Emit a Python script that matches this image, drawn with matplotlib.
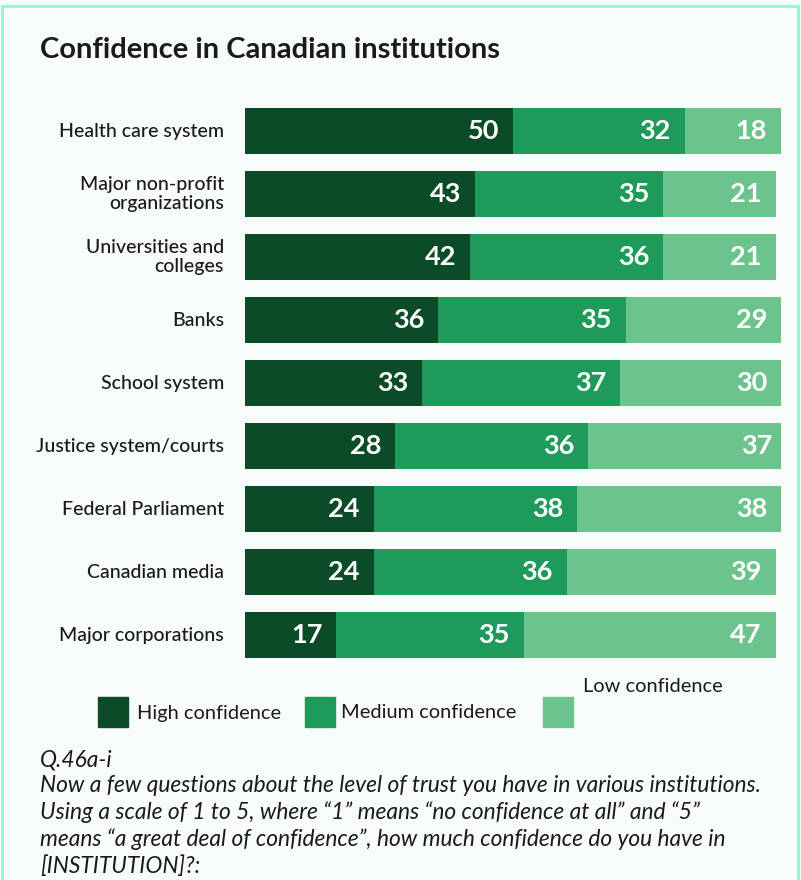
import numpy as np
import matplotlib.pyplot as plt
from matplotlib.patches import Rectangle

categories = ['Health care system', 'Major non-profit\norganizations', 'Universities and\ncolleges',
              'Banks', 'School system', 'Justice system/courts', 'Federal Parliament',
              'Canadian media', 'Major corporations']
high = [50, 43, 42, 36, 33, 28, 24, 24, 17]
medium = [32, 35, 36, 35, 37, 36, 38, 36, 35]
low = [18, 21, 21, 29, 30, 37, 38, 39, 47]
series_names = ['High confidence', 'Medium confidence', 'Low confidence']
colors = ['#0b4b27', '#1e9b5a', '#6cc48d']

title = 'Confidence in Canadian institutions'
note = ('Q.46a-i\n'
        'Now a few questions about the level of trust you have in various institutions.\n'
        'Using a scale of 1 to 5, where \u201c1\u201d means \u201cno confidence at all\u201d and \u201c5\u201d\n'
        'means \u201ca great deal of confidence\u201d, how much confidence do you have in\n'
        '[INSTITUTION]?:')

W, H = 801, 880
bg = '#f7fcfa'
plt.rcParams['font.family'] = ['Lato', 'DejaVu Sans']

fig = plt.figure(figsize=(W / 100, H / 100), dpi=100, facecolor=bg)

# border
fig.patches.append(Rectangle((2 / W, -0.01), (W - 5) / W, (H - 6) / H + 0.01, transform=fig.transFigure,
                             fill=False, edgecolor='#8ef5d6', linewidth=2))

fig.text(40 / W, 1 - 50 / H, title, fontsize=21, fontweight='bold', color='#1a1a1a', va='center')

# bars axes: x 0..100 -> 245..781 px, rows 63 px apart
ax = fig.add_axes([245 / W, 1 - 666.5 / H, 536 / W, 567 / H])
ax.set_facecolor('none')
y = np.arange(len(categories))
left = np.zeros(len(categories))
for vals, c in zip([high, medium, low], colors):
    vals = np.array(vals)
    ax.barh(y, vals, left=left, height=0.73, color=c)
    for yi, l, v in zip(y, left, vals):
        ax.text(l + v - 2.6, yi, str(v), ha='right', va='center', color='white',
                fontsize=19.5, fontweight='bold')
    left = left + vals
ax.set_xlim(0, 100)
ax.set_ylim(len(categories) - 0.5, -0.5)
ax.axis('off')
for yi, cat in zip(y, categories):
    ax.text(-3.9, yi, cat, ha='right', va='center', fontsize=14, color='#1a1a1a',
            linespacing=1.15, multialignment='right', fontweight='medium')

# legend: square x, text x, text y (px)
leg = [(98, 137, 713), (305, 341, 713), (543, 583, 686)]
for (sx, tx, ty), name, c in zip(leg, series_names, colors):
    fig.patches.append(Rectangle((sx / W, 1 - 727 / H), 30 / W, 30 / H,
                                 transform=fig.transFigure, color=c))
    fig.text(tx / W, 1 - ty / H, name, fontsize=14.4, color='#1a1a1a', va='center')

fig.text(40 / W, 1 - 749 / H, note, fontsize=16.4, style='italic', color='#1a1a1a',
         va='top', linespacing=1.3)

fig.savefig('out.png', dpi=100, facecolor=bg)
